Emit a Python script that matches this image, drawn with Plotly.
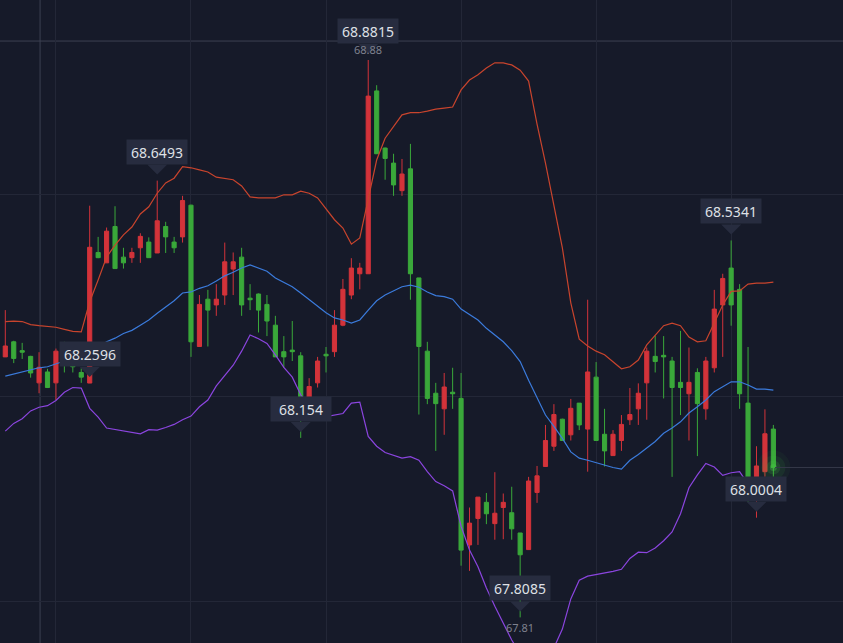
import plotly.graph_objects as go

# ---- data ----
idx = list(range(92))

opens = [68.310, 68.339, 68.322, 68.311, 68.260, 68.281, 68.260, 68.314, 68.319, 68.280,
         68.2596, 68.511, 68.491, 68.561, 68.502, 68.501, 68.520, 68.531, 68.510, 68.561,
         68.531, 68.541, 68.602, 68.330, 68.421, 68.410, 68.429, 68.479, 68.502, 68.423,
         68.431, 68.411, 68.371, 68.320, 68.323, 68.312, 68.221, 68.260, 68.315, 68.320,
         68.371, 68.429, 68.470, 68.470, 68.822, 68.712, 68.683, 68.630, 68.672, 68.462,
         68.321, 68.240, 68.210, 68.242, 68.230, 67.948, 67.999, 68.030, 67.989, 68.020,
         68.010, 67.971, 67.939, 68.049, 68.099, 68.138, 68.190, 68.160, 68.221, 68.171,
         68.271, 68.161, 68.120, 68.149, 68.189, 68.210, 68.260, 68.311, 68.313, 68.302,
         68.261, 68.239, 68.280, 68.210, 68.289, 68.410, 68.481, 68.440, 68.221, 68.054,
         68.089, 68.171]

highs = [68.400, 68.341, 68.337, 68.312, 68.319, 68.287, 68.326, 68.339, 68.325, 68.288,
         68.601, 68.541, 68.559, 68.600, 68.520, 68.520, 68.548, 68.540, 68.6493, 68.570,
         68.541, 68.620, 68.603, 68.429, 68.439, 68.450, 68.530, 68.511, 68.520, 68.450,
         68.432, 68.429, 68.389, 68.350, 68.379, 68.319, 68.269, 68.310, 68.329, 68.400,
         68.460, 68.500, 68.491, 68.8815, 68.833, 68.713, 68.701, 68.691, 68.720, 68.462,
         68.339, 68.260, 68.279, 68.289, 68.279, 68.020, 68.040, 68.048, 68.088, 68.047,
         68.060, 67.971, 68.079, 68.100, 68.179, 68.219, 68.191, 68.229, 68.221, 68.420,
         68.300, 68.210, 68.169, 68.198, 68.250, 68.259, 68.328, 68.351, 68.350, 68.310,
         68.360, 68.328, 68.288, 68.310, 68.439, 68.470, 68.5341, 68.450, 68.329, 68.138,
         68.209, 68.179]

lows = [68.310, 68.298, 68.306, 68.270, 68.240, 68.250, 68.227, 68.280, 68.280, 68.260,
        68.2596, 68.500, 68.491, 68.480, 68.480, 68.491, 68.491, 68.501, 68.510, 68.510,
        68.510, 68.530, 68.310, 68.330, 68.330, 68.389, 68.410, 68.429, 68.389, 68.400,
        68.357, 68.350, 68.310, 68.289, 68.302, 68.154, 68.216, 68.251, 68.280, 68.310,
        68.369, 68.421, 68.440, 68.470, 68.701, 68.651, 68.620, 68.620, 68.420, 68.199,
        68.219, 68.129, 68.160, 68.210, 67.908, 67.898, 67.948, 67.988, 67.958, 67.959,
        67.958, 67.8085, 67.939, 68.029, 68.099, 68.129, 68.149, 68.149, 68.169, 68.089,
        68.149, 68.099, 68.120, 68.129, 68.179, 68.179, 68.189, 68.280, 68.230, 68.079,
        68.198, 68.149, 68.119, 68.189, 68.280, 68.310, 68.370, 68.210, 68.031, 68.0004,
        68.079, 68.079]

closes = [68.331, 68.307, 68.319, 68.279, 68.290, 68.251, 68.321, 68.312, 68.291, 68.271,
          68.521, 68.501, 68.552, 68.480, 68.491, 68.511, 68.542, 68.501, 68.572, 68.541,
          68.520, 68.611, 68.339, 68.411, 68.400, 68.421, 68.493, 68.493, 68.410, 68.420,
          68.400, 68.379, 68.310, 68.310, 68.320, 68.212, 68.253, 68.302, 68.312, 68.371,
          68.440, 68.481, 68.481, 68.812, 68.701, 68.692, 68.641, 68.662, 68.470, 68.330,
          68.230, 68.220, 68.252, 68.239, 67.938, 67.990, 68.040, 68.008, 68.009, 68.030,
          67.979, 67.929, 68.071, 68.081, 68.149, 68.199, 68.149, 68.211, 68.179, 68.281,
          68.149, 68.129, 68.161, 68.180, 68.199, 68.240, 68.321, 68.301, 68.310, 68.251,
          68.251, 68.261, 68.220, 68.302, 68.402, 68.461, 68.410, 68.239, 68.044, 68.100,
          68.162, 68.097]

bb_upper = [68.378, 68.379, 68.378, 68.372, 68.370, 68.369, 68.367, 68.363, 68.359, 68.358,
            68.416, 68.458, 68.502, 68.525, 68.545, 68.560, 68.585, 68.599, 68.625, 68.645,
            68.654, 68.676, 68.674, 68.670, 68.666, 68.656, 68.654, 68.651, 68.639, 68.618,
            68.616, 68.616, 68.616, 68.622, 68.622, 68.629, 68.625, 68.616, 68.595, 68.574,
            68.558, 68.527, 68.539, 68.612, 68.689, 68.731, 68.754, 68.776, 68.780, 68.780,
            68.783, 68.787, 68.789, 68.791, 68.824, 68.843, 68.853, 68.866, 68.876, 68.876,
            68.872, 68.862, 68.841, 68.758, 68.683, 68.602, 68.520, 68.414, 68.344, 68.331,
            68.321, 68.314, 68.301, 68.287, 68.291, 68.304, 68.333, 68.352, 68.370, 68.375,
            68.370, 68.348, 68.339, 68.341, 68.375, 68.410, 68.436, 68.437, 68.450, 68.452,
            68.452, 68.454]

bb_mid = [68.273, 68.277, 68.282, 68.286, 68.289, 68.291, 68.297, 68.302, 68.304, 68.305,
          68.317, 68.329, 68.339, 68.346, 68.355, 68.361, 68.371, 68.381, 68.394, 68.406,
          68.418, 68.433, 68.435, 68.442, 68.447, 68.456, 68.466, 68.473, 68.481, 68.487,
          68.481, 68.475, 68.462, 68.454, 68.445, 68.433, 68.420, 68.408, 68.395, 68.385,
          68.381, 68.375, 68.381, 68.400, 68.418, 68.429, 68.437, 68.445, 68.448, 68.444,
          68.435, 68.428, 68.426, 68.421, 68.402, 68.391, 68.381, 68.365, 68.352, 68.339,
          68.322, 68.301, 68.265, 68.231, 68.198, 68.176, 68.153, 68.127, 68.115, 68.111,
          68.106, 68.102, 68.097, 68.094, 68.111, 68.122, 68.134, 68.147, 68.163, 68.173,
          68.185, 68.202, 68.214, 68.227, 68.243, 68.253, 68.262, 68.262, 68.256, 68.248,
          68.248, 68.246]

bb_lower = [68.167, 68.182, 68.191, 68.206, 68.213, 68.216, 68.226, 68.242, 68.251, 68.250,
            68.211, 68.194, 68.173, 68.170, 68.168, 68.164, 68.162, 68.170, 68.169, 68.174,
            68.180, 68.189, 68.196, 68.214, 68.227, 68.254, 68.275, 68.294, 68.321, 68.352,
            68.345, 68.336, 68.314, 68.290, 68.271, 68.237, 68.213, 68.197, 68.195, 68.198,
            68.201, 68.221, 68.223, 68.157, 68.138, 68.126, 68.120, 68.115, 68.118, 68.111,
            68.089, 68.070, 68.062, 68.052, 67.984, 67.938, 67.906, 67.865, 67.830, 67.797,
            67.765, 67.738, 67.690, 67.703, 67.713, 67.750, 67.786, 67.844, 67.880, 67.888,
            67.891, 67.893, 67.897, 67.901, 67.922, 67.934, 67.933, 67.942, 67.956, 67.973,
            68.008, 68.058, 68.083, 68.105, 68.098, 68.082, 68.087, 68.089, 68.065, 68.054,
            68.052, 68.046]

label_idx = [43, 18, 10, 35, 61, 86, 89]
label_val = [68.8815, 68.6493, 68.2596, 68.154, 67.8085, 68.5341, 68.0004]
label_txt = ["68.8815", "68.6493", "68.2596", "68.154", "67.8085", "68.5341", "68.0004"]

extreme_idx = [43, 61]
extreme_val = [68.8815, 67.8085]
extreme_txt = ["68.88", "67.81"]

grid_x = [6, 22, 38, 54, 70, 86]
grid_y = [68.622, 68.233, 67.840]
cross_x = 4.12
cross_y = 68.918

x_range = [-0.628, 99.25]
y_range = [67.7592, 68.997]

# ---- styling ----
BG = "#161a29"
GRID = "#232737"
CROSS = "#3c4052"
UP = "#d3333a"
DOWN = "#3aa83a"
BOX = "#272c3f"
FONT = "Noto Sans"

fig = go.Figure()

fig.add_trace(go.Candlestick(
    x=idx, open=opens, high=highs, low=lows, close=closes,
    increasing=dict(line=dict(color=UP, width=1), fillcolor=UP),
    decreasing=dict(line=dict(color=DOWN, width=1), fillcolor=DOWN),
    whiskerwidth=0, hoverinfo="skip", showlegend=False,
))

for vals, col in [(bb_upper, "#c8442d"), (bb_mid, "#3b7bdc"), (bb_lower, "#8b45df")]:
    fig.add_trace(go.Scatter(x=idx, y=vals, mode="lines",
                             line=dict(color=col, width=1.2),
                             hoverinfo="skip", showlegend=False))

# glow on the last close
for size, alpha in [(34, 0.05), (24, 0.09), (14, 0.16), (7, 0.35)]:
    fig.add_trace(go.Scatter(x=[idx[-1]], y=[closes[-1]], mode="markers",
                             marker=dict(size=size, color=f"rgba(70,200,70,{alpha})", line=dict(width=0)),
                             hoverinfo="skip", showlegend=False))

shapes = []
# crosshair
shapes.append(dict(type="line", xref="x", yref="paper", x0=cross_x, x1=cross_x, y0=0, y1=1,
                   line=dict(color=CROSS, width=1), layer="below"))
shapes.append(dict(type="line", xref="paper", yref="y", x0=0, x1=1, y0=cross_y, y1=cross_y,
                   line=dict(color=CROSS, width=1), layer="below"))
# last price line
shapes.append(dict(type="line", xref="x", yref="y", x0=idx[-1] + 0.2, x1=x_range[1],
                   y0=closes[-1], y1=closes[-1], line=dict(color="#343849", width=1)))

annotations = []
for i, v, t in zip(label_idx, label_val, label_txt):
    annotations.append(dict(x=i, y=v, xref="x", yref="y", text=t, showarrow=False,
                            xanchor="center", yanchor="bottom", yshift=16,
                            width=60, height=24, borderpad=0, bgcolor=BOX,
                            font=dict(family=FONT, size=14, color="#dfe0e6")))
    shapes.append(dict(type="path", xref="x", yref="y", xsizemode="pixel", ysizemode="pixel",
                       xanchor=i, yanchor=v, path="M -10,16 L 10,16 L 0,6 Z",
                       fillcolor=BOX, line=dict(width=0)))

for i, v, t in zip(extreme_idx, extreme_val, extreme_txt):
    above = v == max(extreme_val)
    annotations.append(dict(x=i, y=v, xref="x", yref="y", text=t, showarrow=False,
                            xanchor="center", yanchor="bottom" if above else "top",
                            yshift=1 if above else -1,
                            font=dict(family=FONT, size=11, color="#7e818e")))

fig.update_layout(
    width=843, height=643,
    margin=dict(l=0, r=0, t=0, b=0),
    paper_bgcolor=BG, plot_bgcolor=BG,
    shapes=shapes, annotations=annotations,
    showlegend=False,
    xaxis=dict(range=x_range, tickvals=grid_x, showticklabels=False, showgrid=True,
               gridcolor=GRID, gridwidth=1, zeroline=False, showline=False, ticks="",
               rangeslider=dict(visible=False), fixedrange=True),
    yaxis=dict(range=y_range, tickvals=grid_y, showticklabels=False, showgrid=True,
               gridcolor=GRID, gridwidth=1, zeroline=False, showline=False, ticks="",
               fixedrange=True),
)

fig.write_html(
    "out.html",
    config={"displayModeBar": False, "staticPlot": True},
    post_script="document.body.style.margin='0';document.body.style.overflow='hidden';"
                "document.body.style.background='" + BG + "';",
)
